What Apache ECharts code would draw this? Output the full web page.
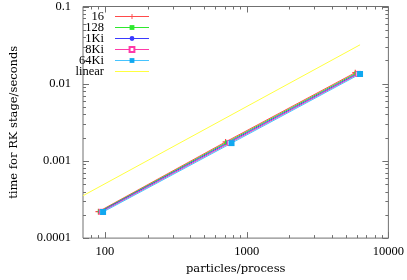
<!DOCTYPE html>
<html><head><meta charset="utf-8">
<script src="https://cdn.jsdelivr.net/npm/echarts@6/dist/echarts.min.js"></script>
<style>html,body{margin:0;padding:0;background:#fff}#c{width:407px;height:280px}</style>
</head><body><div id="c"></div>
<script>
// ---- data ----
const seriesNames = ['16', '128', '1Ki', '8Ki', '64Ki'];
const x16 = [90, 710, 5840];
const y16 = [0.00022, 0.00176, 0.0139];
const x128 = [92, 725, 5950];
const y128 = [0.000221, 0.00174, 0.0137];
const x1Ki = [93, 740, 6050];
const y1Ki = [0.00022, 0.00172, 0.0135];
const x8Ki = [95, 760, 6150];
const y8Ki = [0.000219, 0.00171, 0.0134];
const x64Ki = [97, 782, 6310];
const y64Ki = [0.000218, 0.0017, 0.01336];
const linearX = [70, 6310];
const linearY = [0.000354, 0.0319];
const xMajorTicks = [100, 1000, 10000];
const xMinorTicks = [80, 90, 200, 300, 400, 500, 600, 700, 800, 900, 2000, 3000, 4000, 5000, 6000, 7000, 8000, 9000];
const yMajorTicks = [0.0001, 0.001, 0.01, 0.1];
const yMinorTicks = [0.0002,0.0003,0.0004,0.0005,0.0006,0.0007,0.0008,0.0009,
  0.002,0.003,0.004,0.005,0.006,0.007,0.008,0.009,
  0.02,0.03,0.04,0.05,0.06,0.07,0.08,0.09];
const xTickLabels = ['100', '1000', '10000'];
const yTickLabels = ['0.0001', '0.001', '0.01', '0.1'];

const zip = (a, b) => a.map((v, i) => [v, b[i]]);
const FONT = 'Liberation Serif';
const NAMEFONT = 'DejaVu Serif';
const BORDER = '#707070';

const colors = ['#ff4a4a', '#2ee82e', '#3a3aff', '#ff3aa8', '#46c4ff', '#ffff40'];
const symbols = [
  'path://M4,0H6V4H10V6H6V10H4V6H0V4H4Z', 'rect', 'circle', 'rect', 'rect'
];
const symSizes = [6, 4, 4, 5, 6];
const xs = [x16, x128, x1Ki, x8Ki, x64Ki];
const ys = [y16, y128, y1Ki, y8Ki, y64Ki];

const series = seriesNames.map((n, i) => ({
  name: n, type: 'line', data: zip(xs[i], ys[i]),
  symbol: symbols[i], symbolSize: symSizes[i], showSymbol: true,
  lineStyle: {color: colors[i], width: 1},
  itemStyle: i === 3 ? {color: '#fff', borderColor: colors[i], borderWidth: 1}
                     : {color: i === 4 ? '#10a8f0' : colors[i], borderWidth: 0},
  animation: false
}));
series.push({
  name: 'linear', type: 'line', data: zip(linearX, linearY),
  symbol: 'rect', symbolSize: 0, showSymbol: false,
  lineStyle: {color: colors[5], width: 1}, itemStyle: {color: colors[5]}, animation: false
});

// ticks via custom series (inward, mirrored on all sides)
const tickData = [];
xMajorTicks.forEach(v => tickData.push([v, 0.001, 0, 6]));
xMinorTicks.forEach(v => tickData.push([v, 0.001, 0, 3]));
yMajorTicks.forEach(v => tickData.push([1000, v, 1, 6]));
yMinorTicks.forEach(v => tickData.push([1000, v, 1, 3]));
series.push({
  type: 'custom', silent: true, clip: false, animation: false, z: 5,
  data: tickData,
  renderItem: (params, api) => {
    const cs = params.coordSys;
    const dir = api.value(2), len = api.value(3);
    const p = api.coord([api.value(0), api.value(1)]);
    const st = {stroke: BORDER, lineWidth: 1};
    if (dir === 0) {
      const x = Math.round(p[0]) + 0.5;
      const yb = cs.y + cs.height, yt = cs.y;
      return {type: 'group', children: [
        {type: 'line', shape: {x1: x, y1: yb, x2: x, y2: yb - len}, style: st},
        {type: 'line', shape: {x1: x, y1: yt, x2: x, y2: yt + len}, style: st}
      ]};
    } else {
      const y = Math.round(p[1]) + 0.5;
      const xl = cs.x, xr = cs.x + cs.width;
      return {type: 'group', children: [
        {type: 'line', shape: {x1: xl, y1: y, x2: xl + len, y2: y}, style: st},
        {type: 'line', shape: {x1: xr, y1: y, x2: xr - len, y2: y}, style: st}
      ]};
    }
  }
});

function fmt(list, labels) {
  return v => {
    for (let i = 0; i < list.length; i++) {
      if (Math.abs(Math.log10(v) - Math.log10(list[i])) < 1e-6) return labels[i];
    }
    return '';
  };
}

const legendData = seriesNames.map(n => ({name: n}));
legendData.push({name: 'linear', itemStyle: {opacity: 0}});

const chart = echarts.init(document.getElementById('c'), null, {renderer: 'canvas'});
chart.setOption({
  animation: false,
  backgroundColor: '#fff',
  grid: {left: 67, right: 16, top: 5, bottom: 32, show: true, borderColor: BORDER, borderWidth: 1},
  xAxis: {
    type: 'log', logBase: 10, min: 70, max: 10000,
    name: 'particles/process', nameLocation: 'middle', nameGap: 23,
    nameTextStyle: {fontFamily: NAMEFONT, fontSize: 11.5, color: '#000'},
    axisLine: {show: false}, axisTick: {show: false}, splitLine: {show: false},
    axisLabel: {fontFamily: FONT, fontSize: 12.5, color: '#000', margin: 7,
      formatter: fmt(xMajorTicks, xTickLabels), showMinLabel: false}
  },
  yAxis: {
    type: 'log', logBase: 10, min: 0.0001, max: 0.1,
    name: 'time for RK stage/seconds', nameLocation: 'middle', nameGap: 63,
    nameTextStyle: {fontFamily: NAMEFONT, fontSize: 11.5, color: '#000'},
    axisLine: {show: false}, axisTick: {show: false}, splitLine: {show: false},
    axisLabel: {fontFamily: FONT, fontSize: 12.5, color: '#000', margin: 12,
      formatter: fmt(yMajorTicks, yTickLabels)}
  },
  legend: {
    data: legendData, orient: 'vertical', align: 'right',
    left: 61, top: 5, itemWidth: 34, itemHeight: 6, itemGap: -2,
    lineStyle: {width: 1},
    textStyle: {fontFamily: FONT, fontSize: 12.5, color: '#000', width: 38, align: 'right',
      lineHeight: 10, padding: [0, 6, 0, 0]},
    selectedMode: false
  },
  series: series
});
</script></body></html>
